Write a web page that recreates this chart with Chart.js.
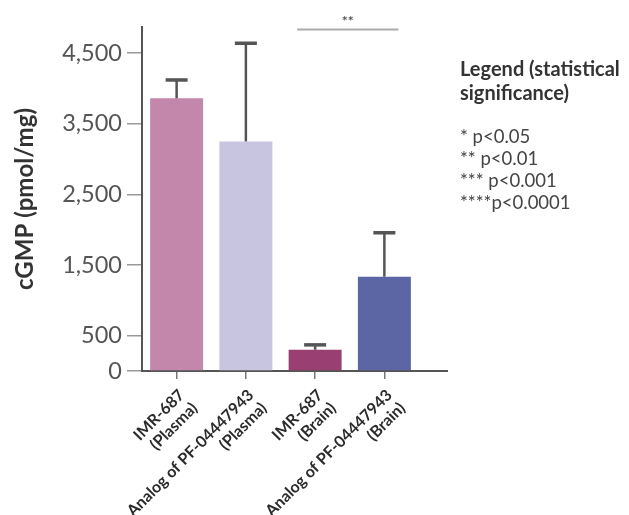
<!DOCTYPE html>
<html lang="en">
<head>
    <meta charset="UTF-8">
    <title>cGMP levels</title>
    <script src="https://cdn.jsdelivr.net/npm/chart.js@4.4.1/dist/chart.umd.min.js"></script>
    <style>
        body { margin: 0; background: #fff; }
        #wrap { position: relative; width: 629px; height: 515px; }
        #sigLegend {
            position: absolute; left: 460px; top: 56px;
            font-family: Lato, "Open Sans", sans-serif; color: #444;
        }
        #sigLegend .head { font-weight: bold; font-size: 20px; line-height: 24px; color: #333; }
        #sigLegend .rows { margin-top: 21px; font-size: 18.5px; line-height: 22px; }
    </style>
</head>
<body>
<div id="wrap">
    <canvas id="myChart" width="629" height="515"></canvas>
    <div id="sigLegend">
        <div class="head">Legend (statistical<br>significance)</div>
        <div class="rows">
            <div>* p&lt;0.05</div>
            <div>** p&lt;0.01</div>
            <div>*** p&lt;0.001</div>
            <div>****p&lt;0.0001</div>
        </div>
    </div>
</div>

<script>
    // data
    const categories = [
        ["IMR-687", "(Plasma)"],
        ["Analog of PF-04447943", "(Plasma)"],
        ["IMR-687", "(Brain)"],
        ["Analog of PF-04447943", "(Brain)"]
    ];
    const means = [3860, 3250, 300, 1335];
    const errUpper = [4120, 4640, 370, 1957];
    const barColors = ["#c287aa", "#c7c5df", "#9a3f72", "#5d66a5"];
    const yTickValues = [0, 500, 1500, 2500, 3500, 4500];
    const sigPair = [2, 3];
    const sigLabel = "**";

    const FONT = "Lato, 'Open Sans', sans-serif";

    const errorBars = {
        id: "errorBars",
        afterDatasetsDraw(chart) {
            const ctx = chart.ctx;
            const y = chart.scales.y;
            const bars = chart.getDatasetMeta(0).data;
            ctx.save();
            ctx.strokeStyle = "#555";
            bars.forEach((bar, i) => {
                const yMean = y.getPixelForValue(means[i]);
                const yTop = y.getPixelForValue(errUpper[i]);
                ctx.lineWidth = 2.5;
                ctx.beginPath();
                ctx.moveTo(bar.x, yMean);
                ctx.lineTo(bar.x, yTop);
                ctx.stroke();
                ctx.lineWidth = 3.5;
                ctx.beginPath();
                ctx.moveTo(bar.x - 11, yTop);
                ctx.lineTo(bar.x + 11, yTop);
                ctx.stroke();
            });
            ctx.restore();
        },
        afterDraw(chart) {
            const ctx = chart.ctx;
            const x = chart.scales.x;
            const y = chart.scales.y;
            const area = chart.chartArea;
            ctx.save();
            // x axis line runs past the last bar
            ctx.strokeStyle = "#555";
            ctx.lineWidth = 2;
            ctx.beginPath();
            ctx.moveTo(area.right - 2, area.bottom);
            ctx.lineTo(448, area.bottom);
            ctx.stroke();

            // significance bracket
            const x1 = x.getPixelForValue(sigPair[0]) - 18;
            const x2 = x.getPixelForValue(sigPair[1]) + 14;
            const yl = y.getPixelForValue(4835);
            ctx.strokeStyle = "#aaa";
            ctx.lineWidth = 2;
            ctx.beginPath();
            ctx.moveTo(x1, yl);
            ctx.lineTo(x2, yl);
            ctx.stroke();
            ctx.fillStyle = "#555";
            ctx.font = "bold 14px " + FONT;
            ctx.textAlign = "center";
            ctx.textBaseline = "middle";
            ctx.fillText(sigLabel, (x1 + x2) / 2, yl - 8);
            ctx.restore();
        }
    };

    const data = {
        labels: categories,
        datasets: [{
            data: means,
            backgroundColor: barColors,
            borderWidth: 0,
            categoryPercentage: 1,
            barPercentage: 0.765
        }]
    };

    const configs = {
        type: "bar",
        data: data,
        plugins: [errorBars],
        options: {
            responsive: false,
            animation: false,
            layout: { padding: { left: 0, top: 27, right: 210, bottom: 0 } },
            plugins: {
                legend: { display: false },
                tooltip: { enabled: false }
            },
            scales: {
                x: {
                    afterFit: (scale) => { scale.height = 144; },
                    grid: {
                        offset: false,
                        drawOnChartArea: false,
                        tickLength: 8,
                        color: "#777",
                        lineWidth: 1.5
                    },
                    border: { color: "#555", width: 2 },
                    ticks: {
                        autoSkip: false,
                        minRotation: 45,
                        maxRotation: 45,
                        padding: 7,
                        labelOffset: 5,
                        color: "#2b2b2b",
                        font: { family: FONT, size: 16, weight: "bold", lineHeight: 1.15 }
                    }
                },
                y: {
                    min: 0,
                    max: 4870,
                    afterFit: (scale) => { scale.width = 142; },
                    afterBuildTicks: (scale) => {
                        scale.ticks = yTickValues.map(v => ({ value: v }));
                    },
                    grid: {
                        drawOnChartArea: false,
                        tickLength: 15,
                        color: "#999",
                        lineWidth: 1.5
                    },
                    border: { color: "#555", width: 2 },
                    ticks: {
                        padding: 5,
                        color: "#555",
                        font: { family: FONT, size: 23.5 }
                    },
                    title: {
                        display: true,
                        text: "cGMP (pmol/mg)",
                        color: "#333",
                        padding: { top: 11, bottom: 0 },
                        font: { family: FONT, size: 24, weight: "bold" }
                    }
                }
            }
        }
    };

    new Chart(document.getElementById("myChart"), configs);
</script>
</body>
</html>
